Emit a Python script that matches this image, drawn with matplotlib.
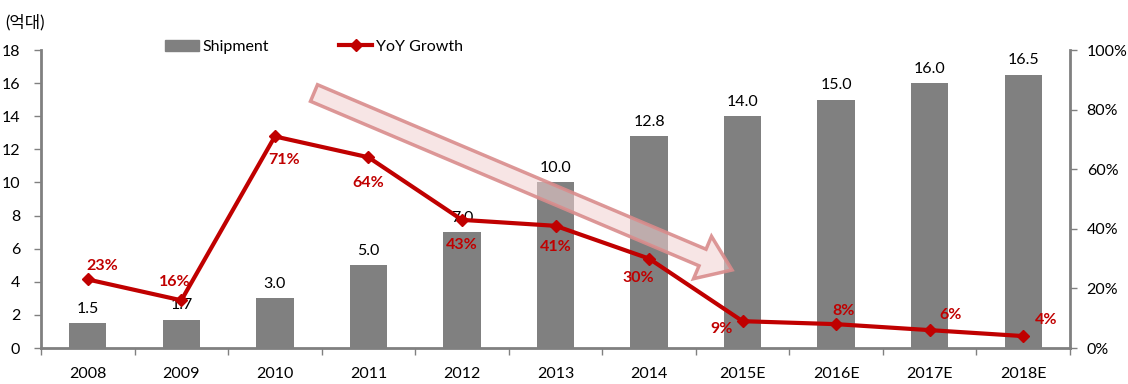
import matplotlib.pyplot as plt
import matplotlib.patches as mpatches
from matplotlib.lines import Line2D
import numpy as np

plt.rcParams['font.family'] = ['Lato', 'Noto Sans CJK KR', 'DejaVu Sans']

years = ['2008', '2009', '2010', '2011', '2012', '2013', '2014',
         '2015E', '2016E', '2017E', '2018E']
shipment = [1.5, 1.7, 3.0, 5.0, 7.0, 10.0, 12.8, 14.0, 15.0, 16.0, 16.5]
growth = [23, 16, 71, 64, 43, 41, 30, 9, 8, 6, 4]

# label offsets for growth labels (x in categories, y in %)
g_off = [(0.15, 4.5), (-0.07, 6), (0.1, -8), (0, -8.5), (0, -8.5), (0, -7),
         (-0.12, -6.5), (-0.23, -2.5), (0.08, 4.5), (0.22, 5), (0.25, 5.5)]

gray = '#808080'
red = '#C00000'

fig = plt.figure(figsize=(11.28, 3.84), dpi=100)
ax = fig.add_axes([41/1128, 1-348/384, (1070-41)/1128, (348-50)/384])
x = np.arange(len(years))

ax.bar(x, shipment, width=0.4, color=gray, zorder=2)
for xi, v in zip(x, shipment):
    ax.text(xi, v + 0.45, f'{v:.1f}', ha='center', va='bottom', fontsize=11.5, color='black', zorder=5)

ax.set_xlim(-0.5, len(years) - 0.5)
ax.set_ylim(0, 18)
ax.set_yticks(np.arange(0, 19, 2))
ax.set_xticks(x)
ax.set_xticklabels(years)
ax.set_xticks(np.arange(-0.5, len(years), 1), minor=True)
ax.tick_params(axis='x', which='major', length=0, pad=14, labelsize=11.5)
ax.tick_params(axis='x', which='minor', length=5, width=1, color=gray, direction='out')
ax.tick_params(axis='y', length=5, width=1, color=gray, labelsize=11.5, pad=10)
for s in ['top', 'right']:
    ax.spines[s].set_visible(False)
ax.spines['left'].set_color(gray)
ax.spines['left'].set_linewidth(2)
ax.spines['bottom'].set_color(gray)
ax.spines['bottom'].set_linewidth(2)

ax2 = ax.twinx()
ax2.set_ylim(0, 100)
ax2.set_yticks(np.arange(0, 101, 20))
ax2.set_yticklabels([f'{v}%' for v in range(0, 101, 20)])
ax2.tick_params(axis='y', length=5, width=1, color=gray, labelsize=11.5, pad=7)
for s in ['top', 'left', 'bottom']:
    ax2.spines[s].set_visible(False)
ax2.spines['right'].set_color(gray)
ax2.spines['right'].set_linewidth(2)
ax2.plot(x, growth, color=red, lw=3, marker='D', ms=6, zorder=4)
for xi, g, (dx, dy) in zip(x, growth, g_off):
    ax2.text(xi + dx, g + dy, f'{g}%', ha='center', va='center', fontsize=11.5,
             fontweight='bold', color=red, zorder=5)

fig.text(5/1128, 1-22/384, '(억대)', fontsize=12, va='center', ha='left')

handles = [mpatches.Patch(color=gray),
           Line2D([], [], color=red, lw=3, marker='D', ms=6)]
fig.legend(handles, ['Shipment', 'YoY Growth'], loc='center',
           bbox_to_anchor=(314/1128, 1-47/384), ncol=2, frameon=False,
           handlelength=2.1, handletextpad=0.2, columnspacing=4.4, fontsize=11.5)

# overlay arrow in pixel coordinates
ov = fig.add_axes([0, 0, 1, 1], facecolor='none')
ov.set_xlim(0, 1128)
ov.set_ylim(384, 0)
ov.axis('off')
ov.add_patch(mpatches.FancyArrow(314, 93, 418, 177, width=18, head_width=46,
                                 head_length=32, length_includes_head=True,
                                 facecolor=(0.95, 0.82, 0.82, 0.55),
                                 edgecolor=(0.85, 0.55, 0.55, 0.9), lw=2.5))

fig.savefig('out.png', dpi=100)
